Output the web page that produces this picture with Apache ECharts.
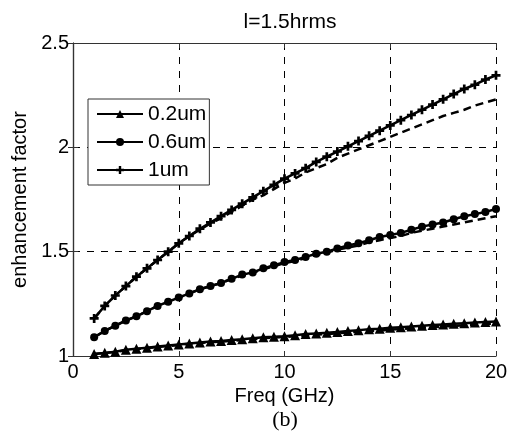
<!DOCTYPE html>
<html>
<head>
<meta charset="utf-8">
<script src="https://cdn.jsdelivr.net/npm/echarts@6/dist/echarts.min.js"></script>
<style>
  html, body { margin: 0; padding: 0; background: #fff; }
  #main { width: 517px; height: 444px; }
</style>
</head>
<body>
<div id="main"></div>
<script>
// frequencies (GHz), 0.5 step
var freq = [1, 1.5, 2, 2.5, 3, 3.5, 4, 4.5, 5, 5.5, 6, 6.5, 7, 7.5, 8, 8.5, 9, 9.5, 10,
    10.5, 11, 11.5, 12, 12.5, 13, 13.5, 14, 14.5, 15, 15.5, 16, 16.5, 17, 17.5, 18, 18.5, 19, 19.5, 20]

// solid curves (with markers)
var s02 = [1.01, 1.015, 1.02, 1.03, 1.035, 1.04, 1.045, 1.05, 1.055, 1.06, 1.065, 1.07, 1.072, 1.077, 1.08, 1.085, 1.09, 1.092, 1.095,
    1.10, 1.105, 1.108, 1.111, 1.115, 1.12, 1.124, 1.128, 1.131, 1.135, 1.138, 1.141, 1.145, 1.148, 1.151, 1.154, 1.157, 1.16, 1.163, 1.165]
var s06 = [1.09, 1.12, 1.145, 1.17, 1.19, 1.215, 1.24, 1.26, 1.28, 1.30, 1.32, 1.335, 1.35, 1.37, 1.39, 1.40, 1.42, 1.435, 1.45,
    1.46, 1.475, 1.49, 1.50, 1.515, 1.53, 1.54, 1.555, 1.57, 1.58, 1.59, 1.605, 1.62, 1.63, 1.64, 1.655, 1.67, 1.68, 1.69, 1.705]
var s10 = [1.18, 1.24, 1.29, 1.335, 1.38, 1.42, 1.46, 1.50, 1.54, 1.575, 1.61, 1.64, 1.67, 1.70, 1.73, 1.76, 1.79, 1.82, 1.85,
    1.875, 1.90, 1.93, 1.955, 1.98, 2.005, 2.03, 2.055, 2.08, 2.105, 2.13, 2.155, 2.18, 2.205, 2.23, 2.255, 2.28, 2.30, 2.325, 2.345]

// dashed curves (approximation, no markers)
var d02 = [1.01, 1.014, 1.019, 1.028, 1.033, 1.038, 1.043, 1.048, 1.053, 1.058, 1.062, 1.066, 1.069, 1.073, 1.077, 1.081, 1.085, 1.088, 1.091,
    1.095, 1.099, 1.102, 1.105, 1.109, 1.113, 1.116, 1.119, 1.122, 1.126, 1.129, 1.132, 1.135, 1.138, 1.141, 1.144, 1.147, 1.15, 1.153, 1.155]
var d06 = [1.09, 1.12, 1.145, 1.17, 1.19, 1.215, 1.24, 1.26, 1.28, 1.30, 1.32, 1.335, 1.35, 1.37, 1.385, 1.40, 1.415, 1.43, 1.445,
    1.455, 1.47, 1.485, 1.495, 1.51, 1.52, 1.53, 1.545, 1.555, 1.565, 1.575, 1.59, 1.60, 1.61, 1.62, 1.63, 1.64, 1.65, 1.66, 1.67]
var d10 = [1.18, 1.24, 1.29, 1.335, 1.38, 1.42, 1.46, 1.50, 1.54, 1.575, 1.605, 1.635, 1.66, 1.69, 1.72, 1.75, 1.77, 1.80, 1.83,
    1.85, 1.88, 1.90, 1.92, 1.95, 1.97, 1.99, 2.01, 2.03, 2.05, 2.07, 2.09, 2.11, 2.13, 2.15, 2.165, 2.18, 2.20, 2.215, 2.23]

var names = ['0.2um', '0.6um', '1um']

function pairs (ys) {
    var out = []
    for (var i = 0; i < freq.length; i++) {
        out.push([freq[i], ys[i]])
    }
    return out
}

var font = 'Liberation Sans, Arial, Helvetica, sans-serif'
var plus = 'path://M3.5,0h3v3.5h3.5v3h-3.5v3.5h-3v-3.5h-3.5v-3h3.5z'

function solid (name, ys, symbol, size) {
    return {
        name: name,
        type: 'line',
        data: pairs(ys),
        symbol: symbol,
        symbolSize: size,
        showAllSymbol: true,
        lineStyle: { color: '#000', width: 2.5 },
        itemStyle: { color: '#000', borderWidth: 0 },
        z: 3
    }
}

function dashed (ys) {
    return {
        type: 'line',
        data: pairs(ys),
        symbol: 'none',
        lineStyle: { color: '#000', width: 2.5, type: [8, 5] },
        z: 2
    }
}

var myChart = echarts.init(document.getElementById('main'))

var gridSplit = { show: true, lineStyle: { color: '#000', width: 1, type: [7, 7] } }
var axisLine = { show: true, lineStyle: { color: '#333', width: 1.2 } }
var tick = { show: true, inside: true, length: 5, lineStyle: { color: '#333' } }

var option = {
    animation: false,
    backgroundColor: '#fff',
    title: {
        text: 'l=1.5hrms',
        left: 285,
        textAlign: 'center',
        top: 7,
        textStyle: { fontFamily: font, fontSize: 21, fontWeight: 'normal', color: '#000' }
    },
    legend: {
        data: names,
        left: 88,
        top: 99,
        orient: 'vertical',
        backgroundColor: '#fff',
        borderColor: '#333',
        borderWidth: 1,
        borderRadius: 0,
        padding: [4, 3, 4, 8],
        itemWidth: 46,
        itemHeight: 10,
        itemGap: 6,
        textStyle: { fontFamily: font, fontSize: 21, lineHeight: 22, color: '#000' }
    },
    grid: { left: 73, right: 21, top: 43, bottom: 88 },
    xAxis: [{
        type: 'value',
        min: 0,
        max: 20,
        interval: 5,
        name: 'Freq (GHz)',
        nameLocation: 'middle',
        nameGap: 27,
        nameTextStyle: { fontFamily: font, fontSize: 20, color: '#000' },
        axisLine: axisLine,
        axisTick: tick,
        axisLabel: { fontFamily: font, fontSize: 20, color: '#000', margin: 6 },
        splitLine: gridSplit
    }, {
        type: 'value',
        position: 'top',
        min: 0,
        max: 20,
        interval: 5,
        axisLine: axisLine,
        axisTick: tick,
        axisLabel: { show: false },
        splitLine: { show: false }
    }],
    yAxis: [{
        type: 'value',
        min: 1,
        max: 2.5,
        interval: 0.5,
        name: 'enhancement factor',
        nameLocation: 'middle',
        nameGap: 42,
        nameTextStyle: { fontFamily: font, fontSize: 20, color: '#000' },
        axisLine: axisLine,
        axisTick: tick,
        axisLabel: { fontFamily: font, fontSize: 20, color: '#000', margin: 4 },
        splitLine: gridSplit
    }, {
        type: 'value',
        position: 'right',
        min: 1,
        max: 2.5,
        interval: 0.5,
        axisLine: axisLine,
        axisTick: tick,
        axisLabel: { show: false },
        splitLine: { show: false }
    }],
    graphic: [{
        type: 'text',
        x: 285,
        y: 409,
        style: { text: '(b)', font: '22px "Liberation Serif", "Times New Roman", serif', fill: '#000', textAlign: 'center' }
    }],
    series: [
        dashed(d02),
        dashed(d06),
        dashed(d10),
        solid(names[0], s02, 'triangle', 10),
        solid(names[1], s06, 'circle', 8),
        solid(names[2], s10, plus, 9)
    ]
}

myChart.setOption(option)
window.onresize = myChart.resize
</script>
</body>
</html>
